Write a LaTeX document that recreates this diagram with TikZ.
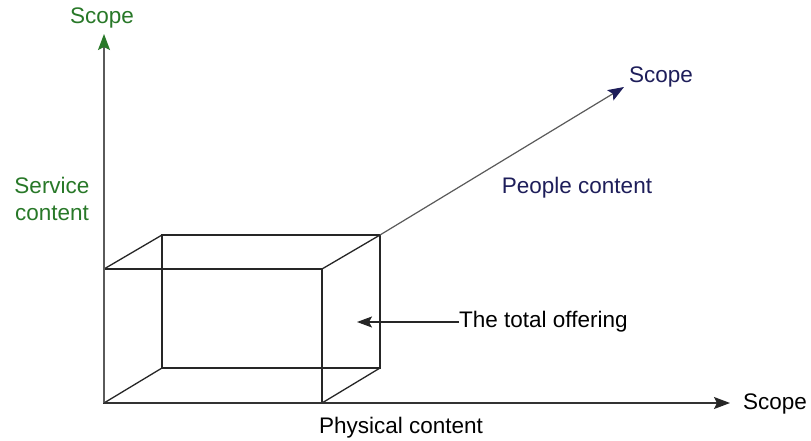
\documentclass[tikz,border=0pt]{standalone}
\usepackage{fontspec}
\setmainfont{Liberation Sans}
\usetikzlibrary{arrows.meta}
\definecolor{axgreen}{RGB}{40,120,40}
\definecolor{axnavy}{RGB}{30,30,90}
\definecolor{axline}{RGB}{90,90,90}
\begin{document}
\begin{tikzpicture}[x=1pt,y=-1pt,
  lbl/.style={inner sep=0pt,font=\fontsize{22.5}{27}\selectfont},
  edge/.style={line width=1.3pt,black!85},
  axis/.style={line width=1.2pt,draw=axline}]
\useasboundingbox[fill=white] (0,0) rectangle (811,440);
% box corners
\coordinate (fbl) at (104,403);
\coordinate (ftl) at (104,269);
\coordinate (ftr) at (322,269);
\coordinate (fbr) at (322,403);
\coordinate (bbl) at (162,368);
\coordinate (btl) at (162,235);
\coordinate (btr) at (380,235);
\coordinate (bbr) at (380,368);
% axis ends
\coordinate (vtop) at (104,34);
\coordinate (hend) at (730,403);
\coordinate (dend) at (624,87);
% labels
\node[lbl,text=axgreen] (scopeV) at (102,18) {Scope};
\node[lbl,text=axnavy] (scopeD) at (661,77) {Scope};
\node[lbl] (scopeH) at (775,404) {Scope};
\node[lbl,text=axgreen,align=center] (service) at (52,199) {Service\\content};
\node[lbl,text=axnavy] (people) at (577,188) {People content};
\node[lbl,anchor=west] (total) at (459,322) {The total offering};
\node[lbl] (physical) at (401,428) {Physical content};
\coordinate (totaltip) at (357,322);
% box
\draw[edge] (fbl) -- (ftl) -- (ftr) -- (fbr) -- cycle;
\draw[edge] (bbl) -- (btl) -- (btr) -- (bbr) -- cycle;
\draw[edge] (fbl) -- (bbl);
\draw[edge] (ftl) -- (btl);
\draw[edge] (ftr) -- (btr);
\draw[edge] (fbr) -- (bbr);
% axes
\draw[axis,-{Stealth[length=16pt,width=12pt,inset=3pt,color=axgreen]}] (fbl) -- (vtop);
\draw[axis,-{Stealth[length=16pt,width=12pt,inset=3pt,color=black!85]},draw=black!80] (fbl) -- (hend);
\draw[axis,-{Stealth[length=16pt,width=12pt,inset=3pt,color=axnavy]}] (btr) -- (dend);
% pointer
\draw[line width=1.2pt,black!85,-{Stealth[length=15pt,width=11pt,inset=3pt]}] (total.west) -- (totaltip);
\end{tikzpicture}
\end{document}
